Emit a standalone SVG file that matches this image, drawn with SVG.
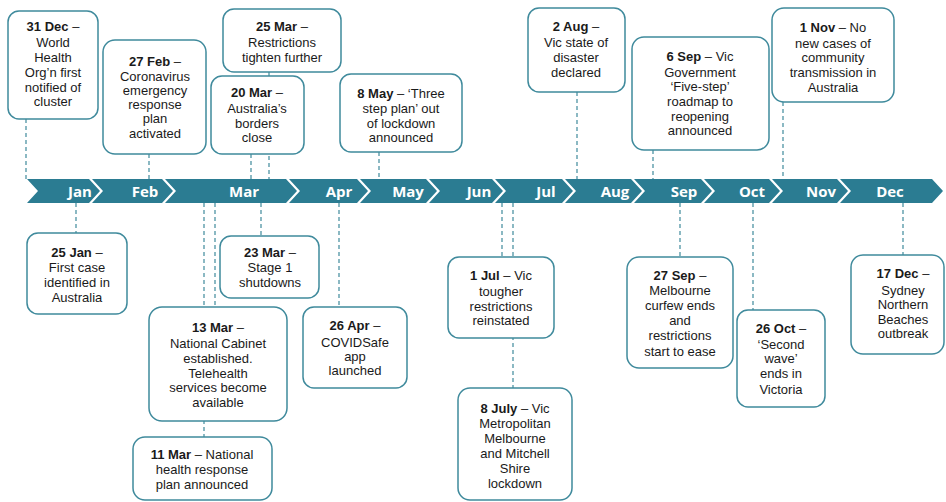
<svg xmlns="http://www.w3.org/2000/svg" width="946" height="502" viewBox="0 0 946 502">
<style>
.bg{fill:#ffffff}
.seg{fill:#2b7c92}
.mon{font-family:"Open Sans","Liberation Sans",sans-serif;font-weight:700;font-size:15px;fill:#ffffff;text-anchor:middle}
.box{fill:#ffffff;stroke:#3f8a9c;stroke-width:1.5}
.t{font-family:"Liberation Sans",Arial,sans-serif;font-size:13px;fill:#1a1a1a;text-anchor:middle}
.b{font-weight:700}
.dash{stroke:#3f8a9c;stroke-width:1.2;stroke-dasharray:4 3;fill:none}
</style>
<rect class="bg" x="0" y="0" width="946" height="502"/>
<g id="connectors">
<line class="dash" x1="26" y1="119" x2="26" y2="179"/>
<line class="dash" x1="149" y1="154" x2="149" y2="179"/>
<line class="dash" x1="251" y1="154" x2="251" y2="179"/>
<line class="dash" x1="269" y1="72" x2="269" y2="179"/>
<line class="dash" x1="379" y1="152" x2="379" y2="179"/>
<line class="dash" x1="577" y1="92" x2="577" y2="179"/>
<line class="dash" x1="653" y1="150" x2="653" y2="179"/>
<line class="dash" x1="783" y1="102" x2="783" y2="179"/>
<line class="dash" x1="76" y1="203" x2="76" y2="233"/>
<line class="dash" x1="204" y1="203" x2="204" y2="437"/>
<line class="dash" x1="215" y1="203" x2="215" y2="307"/>
<line class="dash" x1="261" y1="203" x2="261" y2="236"/>
<line class="dash" x1="339" y1="203" x2="339" y2="307"/>
<line class="dash" x1="502" y1="203" x2="502" y2="257"/>
<line class="dash" x1="513" y1="203" x2="513" y2="388"/>
<line class="dash" x1="680" y1="203" x2="680" y2="257"/>
<line class="dash" x1="753" y1="203" x2="753" y2="310"/>
<line class="dash" x1="903" y1="203" x2="903" y2="255"/>
</g>
<g id="timeline">
<polygon class="seg" points="27,179 89,179 100,191 89,203 27,203 38,191"/>
<polygon class="seg" points="92,179 162,179 173,191 162,203 92,203 103,191"/>
<polygon class="seg" points="165,179 286,179 297,191 286,203 165,203 176,191"/>
<polygon class="seg" points="289,179 357,179 368,191 357,203 289,203 300,191"/>
<polygon class="seg" points="360,179 426,179 437,191 426,203 360,203 371,191"/>
<polygon class="seg" points="429,179 492,179 503,191 492,203 429,203 440,191"/>
<polygon class="seg" points="495,179 562,179 573,191 562,203 495,203 506,191"/>
<polygon class="seg" points="565,179 631,179 642,191 631,203 565,203 576,191"/>
<polygon class="seg" points="634,179 701,179 712,191 701,203 634,203 645,191"/>
<polygon class="seg" points="704,179 769,179 780,191 769,203 704,203 715,191"/>
<polygon class="seg" points="772,179 837,179 848,191 837,203 772,203 783,191"/>
<polygon class="seg" points="840,179 932,179 943,191 932,203 840,203 851,191"/>
<text class="mon" x="80" y="196.5">Jan</text>
<text class="mon" x="145" y="196.5">Feb</text>
<text class="mon" x="244" y="196.5">Mar</text>
<text class="mon" x="339" y="196.5">Apr</text>
<text class="mon" x="408" y="196.5">May</text>
<text class="mon" x="479" y="196.5">Jun</text>
<text class="mon" x="546" y="196.5">Jul</text>
<text class="mon" x="615" y="196.5">Aug</text>
<text class="mon" x="684" y="196.5">Sep</text>
<text class="mon" x="752" y="196.5">Oct</text>
<text class="mon" x="821" y="196.5">Nov</text>
<text class="mon" x="890" y="196.5">Dec</text>
</g>
<g id="n-31dec">
<rect class="box" x="8" y="11" width="90" height="108" rx="11"/>
<text class="t" x="53" y="30.5"><tspan class="b">31 Dec</tspan> –</text>
<text class="t" x="53" y="46.5">World</text>
<text class="t" x="53" y="61.5">Health</text>
<text class="t" x="53" y="76.5">Org’n first</text>
<text class="t" x="53" y="91.5">notified of</text>
<text class="t" x="53" y="105.5">cluster</text>
</g>
<g id="n-27feb">
<rect class="box" x="103" y="40" width="103" height="114" rx="12"/>
<text class="t" x="155" y="66"><tspan class="b">27 Feb</tspan> –</text>
<text class="t" x="155" y="80.5">Coronavirus</text>
<text class="t" x="155" y="94.5">emergency</text>
<text class="t" x="155" y="108.5">response</text>
<text class="t" x="155" y="122.5">plan</text>
<text class="t" x="155" y="137.5">activated</text>
</g>
<g id="n-25mar">
<rect class="box" x="223" y="9" width="118" height="63" rx="11"/>
<text class="t" x="282" y="30.5"><tspan class="b">25 Mar</tspan> –</text>
<text class="t" x="282" y="46.5">Restrictions</text>
<text class="t" x="282" y="61.5">tighten further</text>
</g>
<g id="n-20mar">
<rect class="box" x="211" y="76" width="93" height="78" rx="11"/>
<text class="t" x="257" y="96.5"><tspan class="b">20 Mar</tspan> –</text>
<text class="t" x="257" y="112.5">Australia’s</text>
<text class="t" x="257" y="127.5">borders</text>
<text class="t" x="257" y="141.5">close</text>
</g>
<g id="n-8may">
<rect class="box" x="340" y="74" width="122" height="78" rx="11"/>
<text class="t" x="401" y="97.5"><tspan class="b">8 May</tspan> – ‘Three</text>
<text class="t" x="401" y="112.5">step plan’ out</text>
<text class="t" x="401" y="127.5">of lockdown</text>
<text class="t" x="401" y="141.5">announced</text>
</g>
<g id="n-2aug">
<rect class="box" x="528" y="8" width="97" height="84" rx="11"/>
<text class="t" x="576" y="30.5"><tspan class="b">2 Aug</tspan> –</text>
<text class="t" x="576" y="46.5">Vic state of</text>
<text class="t" x="576" y="61.5">disaster</text>
<text class="t" x="576" y="76.5">declared</text>
</g>
<g id="n-6sep">
<rect class="box" x="632" y="37" width="137" height="113" rx="12"/>
<text class="t" x="700" y="60.5"><tspan class="b">6 Sep</tspan> – Vic</text>
<text class="t" x="700" y="76.5">Government</text>
<text class="t" x="700" y="90.5">‘Five-step’</text>
<text class="t" x="700" y="105.5">roadmap to</text>
<text class="t" x="700" y="120.5">reopening</text>
<text class="t" x="700" y="134.5">announced</text>
</g>
<g id="n-1nov">
<rect class="box" x="772" y="8" width="122" height="94" rx="12"/>
<text class="t" x="833" y="31.5"><tspan class="b">1 Nov</tspan> – No</text>
<text class="t" x="833" y="47.5">new cases of</text>
<text class="t" x="833" y="61.5">community</text>
<text class="t" x="833" y="76.5">transmission in</text>
<text class="t" x="833" y="91.5">Australia</text>
</g>
<g id="n-25jan">
<rect class="box" x="27" y="233" width="100" height="81" rx="11"/>
<text class="t" x="77" y="256.5"><tspan class="b">25 Jan</tspan> –</text>
<text class="t" x="77" y="271.5">First case</text>
<text class="t" x="77" y="286.5">identified in</text>
<text class="t" x="77" y="301.5">Australia</text>
</g>
<g id="n-23mar">
<rect class="box" x="220" y="236" width="99" height="62" rx="11"/>
<text class="t" x="270" y="256.5"><tspan class="b">23 Mar</tspan> –</text>
<text class="t" x="270" y="271.5">Stage 1</text>
<text class="t" x="270" y="286.5">shutdowns</text>
</g>
<g id="n-13mar">
<rect class="box" x="149" y="307" width="138" height="114" rx="13"/>
<text class="t" x="218" y="331.5"><tspan class="b">13 Mar</tspan> –</text>
<text class="t" x="218" y="347.5">National Cabinet</text>
<text class="t" x="218" y="362.5">established.</text>
<text class="t" x="218" y="377.5">Telehealth</text>
<text class="t" x="218" y="391.5">services become</text>
<text class="t" x="218" y="406.5">available</text>
</g>
<g id="n-11mar">
<rect class="box" x="133" y="437" width="139" height="63" rx="12"/>
<text class="t" x="202" y="458.5"><tspan class="b">11 Mar</tspan> – National</text>
<text class="t" x="202" y="473.5">health response</text>
<text class="t" x="202" y="488.5">plan announced</text>
</g>
<g id="n-26apr">
<rect class="box" x="303" y="307" width="104" height="81" rx="11"/>
<text class="t" x="355" y="329.5"><tspan class="b">26 Apr</tspan> –</text>
<text class="t" x="355" y="346.5">COVIDSafe</text>
<text class="t" x="355" y="360.5">app</text>
<text class="t" x="355" y="374.5">launched</text>
</g>
<g id="n-1jul">
<rect class="box" x="448" y="257" width="106" height="81" rx="11"/>
<text class="t" x="501" y="279.5"><tspan class="b">1 Jul</tspan> – Vic</text>
<text class="t" x="501" y="295.5">tougher</text>
<text class="t" x="501" y="310.5">restrictions</text>
<text class="t" x="501" y="324.5">reinstated</text>
</g>
<g id="n-8jul">
<rect class="box" x="458" y="388" width="114" height="112" rx="12"/>
<text class="t" x="515" y="412.5"><tspan class="b">8 July</tspan> – Vic</text>
<text class="t" x="515" y="427.5">Metropolitan</text>
<text class="t" x="515" y="442.5">Melbourne</text>
<text class="t" x="515" y="457.5">and Mitchell</text>
<text class="t" x="515" y="472.5">Shire</text>
<text class="t" x="515" y="487.5">lockdown</text>
</g>
<g id="n-27sep">
<rect class="box" x="627" y="257" width="106" height="111" rx="12"/>
<text class="t" x="680" y="279.5"><tspan class="b">27 Sep</tspan> –</text>
<text class="t" x="680" y="294.5">Melbourne</text>
<text class="t" x="680" y="309.5">curfew ends</text>
<text class="t" x="680" y="324.5">and</text>
<text class="t" x="680" y="339.5">restrictions</text>
<text class="t" x="680" y="355.5">start to ease</text>
</g>
<g id="n-26oct">
<rect class="box" x="737" y="310" width="88" height="97" rx="11"/>
<text class="t" x="781" y="332.5"><tspan class="b">26 Oct</tspan> –</text>
<text class="t" x="781" y="348.5">‘Second</text>
<text class="t" x="781" y="362.5">wave’</text>
<text class="t" x="781" y="377.5">ends in</text>
<text class="t" x="781" y="393.5">Victoria</text>
</g>
<g id="n-17dec">
<rect class="box" x="851" y="255" width="93" height="99" rx="12"/>
<text class="t" x="903" y="277.5"><tspan class="b">17 Dec</tspan> –</text>
<text class="t" x="903" y="294.5">Sydney</text>
<text class="t" x="903" y="308.5">Northern</text>
<text class="t" x="903" y="323.5">Beaches</text>
<text class="t" x="903" y="337.5">outbreak</text>
</g>
</svg>
